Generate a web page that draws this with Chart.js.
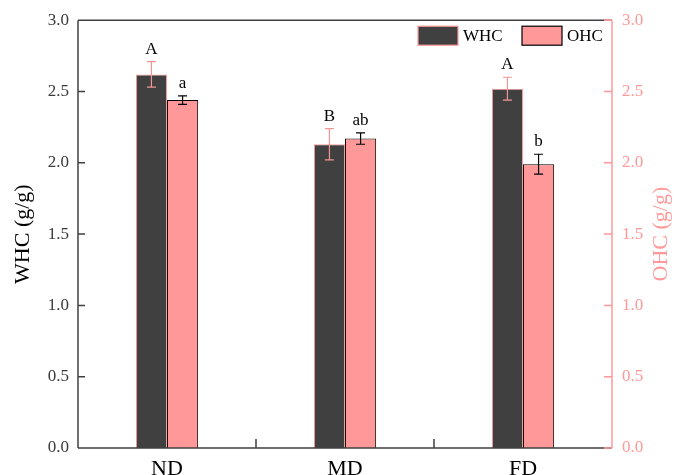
<!DOCTYPE html>
<html>
<head>
<meta charset="utf-8">
<script src="https://cdn.jsdelivr.net/npm/chart.js@4/dist/chart.umd.min.js"></script>
<style>
  html, body { margin: 0; padding: 0; background: #fff; }
  #wrap { width: 674px; height: 475px; }
</style>
</head>
<body>
<div id="wrap"><canvas id="wc"></canvas></div>
<script>
// data
const categories = ['ND', 'MD', 'FD'];
const whc = [2.62, 2.13, 2.52];
const whcErr = [0.09, 0.11, 0.08];
const whcLetters = ['A', 'B', 'A'];
const ohc = [2.44, 2.17, 1.99];
const ohcErr = [0.03, 0.04, 0.07];
const ohcLetters = ['a', 'ab', 'b'];
const yMin = 0, yMax = 3, yStep = 0.5;

const serif = '"Liberation Serif", "Times New Roman", serif';
const pink = '#ff9999';
const dark = '#404040';

// axes frame, error bars, letters and legend
const frame = {
  id: 'frame',
  afterDatasetsDraw(chart) {
    const { ctx, chartArea: a, scales } = chart;
    ctx.save();

    // error bars + significance letters
    chart.data.datasets.forEach((ds, i) => {
      const meta = chart.getDatasetMeta(i);
      const sc = scales[ds.yAxisID];
      meta.data.forEach((bar, j) => {
        const top = sc.getPixelForValue(ds.data[j] + ds.err[j]);
        const bot = sc.getPixelForValue(ds.data[j] - ds.err[j]);
        ctx.strokeStyle = ds.errColor;
        ctx.lineWidth = 1.2;
        ctx.beginPath();
        ctx.moveTo(bar.x, top); ctx.lineTo(bar.x, bot);
        ctx.moveTo(bar.x - 4.5, top); ctx.lineTo(bar.x + 4.5, top);
        ctx.moveTo(bar.x - 4.5, bot); ctx.lineTo(bar.x + 4.5, bot);
        ctx.stroke();
        ctx.fillStyle = '#000';
        ctx.font = '17px ' + serif;
        ctx.textAlign = 'center';
        ctx.textBaseline = 'alphabetic';
        ctx.fillText(ds.letters[j], bar.x, top - 8);
      });
    });

    ctx.lineWidth = 1.5;
    // top + bottom + left
    ctx.strokeStyle = dark;
    ctx.beginPath();
    ctx.moveTo(a.left, a.top); ctx.lineTo(a.right, a.top);
    ctx.moveTo(a.left, a.top); ctx.lineTo(a.left, a.bottom);
    ctx.moveTo(a.left, a.bottom); ctx.lineTo(a.right, a.bottom);
    scales.y.ticks.forEach(t => {
      const p = scales.y.getPixelForValue(t.value);
      ctx.moveTo(a.left, p); ctx.lineTo(a.left + 7, p);
    });
    const xs = scales.x;
    for (let i = 1; i < categories.length; i++) {
      const p = (xs.getPixelForValue(i - 1) + xs.getPixelForValue(i)) / 2;
      ctx.moveTo(p, a.bottom); ctx.lineTo(p, a.bottom - 9);
    }
    ctx.stroke();

    // right axis
    ctx.strokeStyle = pink;
    ctx.beginPath();
    ctx.moveTo(a.right, a.top); ctx.lineTo(a.right, a.bottom);
    scales.y1.ticks.forEach(t => {
      const p = scales.y1.getPixelForValue(t.value);
      ctx.moveTo(a.right, p); ctx.lineTo(a.right - 8, p);
    });
    ctx.stroke();

    // right axis title, reads bottom to top
    ctx.save();
    ctx.translate(a.right + 49, (a.top + a.bottom) / 2);
    ctx.rotate(-Math.PI / 2);
    ctx.fillStyle = pink;
    ctx.font = '22px ' + serif;
    ctx.textAlign = 'center';
    ctx.textBaseline = 'middle';
    ctx.fillText('OHC (g/g)', 0, 0);
    ctx.restore();

    // legend
    const items = chart.data.datasets;
    const lx = [a.right - 194, a.right - 90];
    items.forEach((ds, i) => {
      const bx = lx[i], by = a.top + 6;
      ctx.fillStyle = ds.backgroundColor;
      ctx.fillRect(bx, by, 40, 19);
      ctx.strokeStyle = ds.borderColor;
      ctx.lineWidth = 1.2;
      ctx.strokeRect(bx, by, 40, 19);
      ctx.fillStyle = '#000';
      ctx.font = '17px ' + serif;
      ctx.textAlign = 'left';
      ctx.textBaseline = 'middle';
      ctx.fillText(ds.label, bx + 45, by + 10);
    });

    ctx.restore();
  }
};

new Chart(document.getElementById('wc'), {
  type: 'bar',
  data: {
    labels: categories,
    datasets: [
      {
        label: 'WHC', data: whc, err: whcErr, letters: whcLetters,
        yAxisID: 'y', backgroundColor: dark, borderColor: pink,
        borderWidth: 1, errColor: '#f29595'
      },
      {
        label: 'OHC', data: ohc, err: ohcErr, letters: ohcLetters,
        yAxisID: 'y1', backgroundColor: pink, borderColor: '#000',
        borderWidth: 1, errColor: '#000'
      }
    ]
  },
  options: {
    responsive: true,
    maintainAspectRatio: false,
    animation: false,
    categoryPercentage: 0.35,
    barPercentage: 1.0,
    layout: { padding: { top: 19, left: 0, right: 0, bottom: 0 } },
    plugins: {
      legend: { display: false },
      tooltip: { enabled: false }
    },
    scales: {
      x: {
        grid: { display: false, drawTicks: false },
        border: { display: false },
        ticks: { color: '#000', padding: 8, font: { family: serif, size: 22 } },
        afterFit(s) { s.height = 27; }
      },
      y: {
        position: 'left',
        min: yMin, max: yMax,
        grid: { display: false, drawTicks: false },
        border: { display: false },
        ticks: {
          stepSize: yStep, padding: 9, color: '#3a3a3a',
          font: { family: serif, size: 17 },
          callback: v => v.toFixed(1)
        },
        title: {
          display: true, text: 'WHC (g/g)', color: '#000',
          font: { family: serif, size: 22 }, padding: { top: 10, bottom: 0 }
        },
        afterFit(s) { s.width = 78; }
      },
      y1: {
        position: 'right',
        min: yMin, max: yMax,
        grid: { display: false, drawTicks: false },
        border: { display: false },
        ticks: {
          stepSize: yStep, padding: 10, color: pink,
          font: { family: serif, size: 17 },
          callback: v => v.toFixed(1)
        },
        afterFit(s) { s.width = 62; }
      }
    }
  },
  plugins: [frame]
});
</script>
</body>
</html>
